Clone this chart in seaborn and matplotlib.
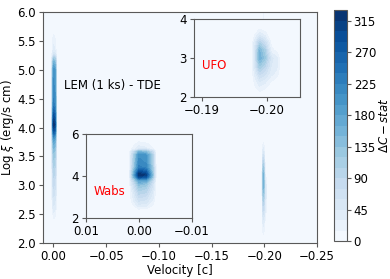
#_Environment Set up -----------------
import numpy as np
import matplotlib
matplotlib.use("Agg")
import matplotlib.pyplot as plt
import seaborn as sns

#_Data ----------------------------------
# rows of the map (log xi)
log_xi = [2.0, 2.2, 2.4, 2.6, 2.8, 3.0, 3.2, 3.4, 3.6, 3.8, 3.95, 4.05,
          4.2, 4.4, 4.7, 5.0, 5.15, 5.3, 5.5, 5.7, 5.85, 6.0]

# warm absorber (Wabs) columns near v = 0
v_wabs = [0.0013, 0.0, -0.0013, -0.0026]
dc_wabs = [
    [0, 0, 0, 0],
    [0, 0, 0, 0],
    [0, 12, 10, 0],
    [10, 40, 35, 15],
    [20, 60, 55, 25],
    [25, 80, 70, 35],
    [30, 95, 90, 40],
    [40, 115, 105, 50],
    [50, 140, 130, 60],
    [70, 190, 180, 80],
    [100, 290, 280, 120],
    [110, 329, 310, 130],
    [100, 290, 270, 120],
    [80, 230, 220, 110],
    [75, 215, 205, 100],
    [70, 205, 195, 95],
    [50, 150, 140, 70],
    [15, 40, 35, 15],
    [10, 25, 20, 10],
    [0, 8, 5, 0],
    [0, 0, 0, 0],
    [0, 0, 0, 0],
]

# ultra fast outflow (UFO) columns near v = -0.2
v_ufo = [-0.1982, -0.1989, -0.1997, -0.2007, -0.2015]
dc_ufo = [
    [0, 0, 0, 0, 0],
    [10, 20, 15, 5, 0],
    [20, 45, 35, 15, 5],
    [35, 80, 65, 35, 25],
    [50, 120, 95, 45, 35],
    [60, 160, 125, 50, 35],
    [55, 150, 110, 20, 10],
    [40, 100, 70, 10, 0],
    [15, 40, 25, 0, 0],
    [0, 5, 0, 0, 0],
    [0, 0, 0, 0, 0],
    [0, 0, 0, 0, 0],
    [0, 0, 0, 0, 0],
    [0, 0, 0, 0, 0],
    [0, 0, 0, 0, 0],
    [0, 0, 0, 0, 0],
    [0, 0, 0, 0, 0],
    [0, 0, 0, 0, 0],
    [0, 0, 0, 0, 0],
    [0, 0, 0, 0, 0],
    [0, 15, 0, 0, 0],
    [0, 20, 0, 0, 0],
]

# empty (zero) columns that bound the two features
v_empty = [0.01, 0.0019, -0.0033, -0.19, -0.1976, -0.2023, -0.25]

levels = np.arange(0, 331, 15)
cbar_ticks = [0, 45, 90, 135, 180, 225, 270, 315]

#_Build the grid -----------------
cols = {v: [0] * len(log_xi) for v in v_empty}
for j, v in enumerate(v_wabs):
    cols[v] = [row[j] for row in dc_wabs]
for j, v in enumerate(v_ufo):
    cols[v] = [row[j] for row in dc_ufo]
velocity = sorted(cols)
grid = np.array([cols[v] for v in velocity]).T

#_Plot -----------------
sns.set_style("ticks")
plt.rcParams['font.family'] = ['DejaVu Sans']
plt.rcParams['font.size'] = 8.5
plt.rcParams['text.color'] = 'black'
plt.rcParams['axes.labelcolor'] = 'black'
plt.rcParams['xtick.labelcolor'] = 'black'
plt.rcParams['ytick.labelcolor'] = 'black'
cmap = sns.color_palette("Blues", as_cmap=True)
fs = 8.5

fig = plt.figure(figsize=(3.9, 2.79), dpi=100)
ax = fig.add_axes([0.110, 0.129, 0.703, 0.828])
cax = fig.add_axes([0.856, 0.136, 0.033, 0.828])
ax_w = fig.add_axes([0.2205, 0.219, 0.272, 0.301])
ax_u = fig.add_axes([0.497, 0.652, 0.272, 0.280])

for a in (ax, ax_w, ax_u):
    cs = a.contourf(velocity, log_xi, grid, levels=levels, cmap=cmap)
    for s in a.spines.values():
        s.set_color('0.35')
    a.tick_params(labelsize=fs, length=3, color='0.35', pad=2)

ax.set_xlim(0.01, -0.25)
ax.set_ylim(2.0, 6.0)
ax.set_xticks([0.0, -0.05, -0.10, -0.15, -0.20, -0.25])
ax.set_yticks([2.0, 2.5, 3.0, 3.5, 4.0, 4.5, 5.0, 5.5, 6.0])
ax.set_xlabel('Velocity [c]', fontsize=fs, labelpad=1)
ax.set_ylabel(r'Log $\xi$ (erg/s cm)', fontsize=fs, labelpad=1)
ax.text(0.077, 0.68, 'LEM (1 ks) - TDE', transform=ax.transAxes,
        fontsize=fs, va='center')

ax_w.set_xlim(0.01, -0.01)
ax_w.set_ylim(2, 6)
ax_w.set_xticks([0.01, 0.0, -0.01])
ax_w.set_yticks([2, 4, 6])
ax_w.text(0.075, 0.31, 'Wabs', color='red', transform=ax_w.transAxes,
          fontsize=fs, va='center')

ax_u.set_xlim(-0.1888, -0.2051)
ax_u.set_ylim(2, 4)
ax_u.set_xticks([-0.19, -0.20])
ax_u.set_yticks([2, 3, 4])
ax_u.text(0.075, 0.40, 'UFO', color='red', transform=ax_u.transAxes,
          fontsize=fs, va='center')

cb = fig.colorbar(cs, cax=cax, ticks=cbar_ticks)
cb.set_label(r'$\Delta C - stat$', fontsize=fs)
cb.ax.yaxis.set_label_coords(3.45, 0.5)
cb.ax.tick_params(labelsize=fs, length=3, color='0.35', pad=2)
cb.outline.set_edgecolor('0.35')

plt.savefig("out.png", dpi=100)
plt.close()
